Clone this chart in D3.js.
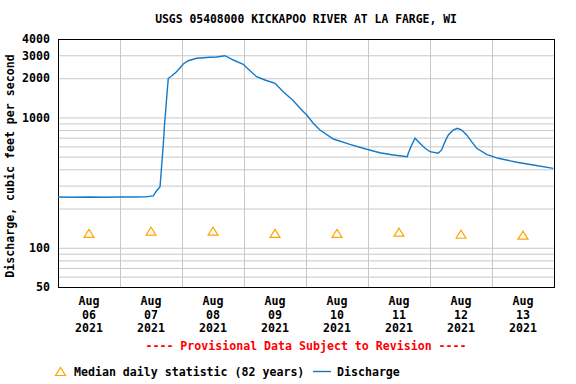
<!DOCTYPE html>
<html>
<head>
<meta charset="utf-8">
<script src="https://cdn.jsdelivr.net/npm/d3@7"></script>
<style>
  body { margin: 0; background: #fff; }
  text { font-family: "DejaVu Sans Mono", monospace; font-weight: bold; }
</style>
</head>
<body>
<script>
// chart size
var width = 576,
    height = 384;

// discharge, hours after Aug 06 2021 00:00 and cubic feet per second
var hours = [0, 6, 12, 18, 24, 30, 33.7, 36.9, 37.5, 38.2, 39.5, 39.9, 40.4, 40.8, 41.2, 41.5,
  42.1, 42.7, 44.0, 45.9, 48.5, 50.4, 53.7, 58.8, 61.4, 64.6, 67.9, 71.7, 73.7, 76.9, 80.1,
  84.0, 87.2, 91.1, 93.7, 95.0, 96.3, 98.8, 101.4, 106.6, 113.0, 119.5, 124.6, 129.8, 135.2,
  135.6, 136.9, 138.2, 140.1, 142.1, 144.0, 147.2, 148.5, 149.8, 151.1, 153.0, 154.6, 156.3,
  158.2, 160.1, 162.1, 165.9, 170.4, 177.6, 184.0, 191.7];
var discharge = [245, 244, 245, 244, 245, 245, 246, 250, 262, 274, 294, 373, 500, 640, 860, 1013,
  1443, 1998, 2080, 2245, 2571, 2726, 2844, 2895, 2910, 2978, 2760, 2558, 2342, 2054, 1938,
  1828, 1576, 1344, 1175, 1107, 1044, 902, 801, 683, 622, 570, 536, 515, 500,
  531, 615, 692, 633, 580, 546, 531, 563, 652, 734, 801, 826, 801,
  734, 652, 580, 521, 486, 453, 432, 407];

// median daily statistic (82 years)
var medianDays = [0, 1, 2, 3, 4, 5, 6, 7];
var medianValues = [129, 134, 134, 129, 129, 132, 127, 125];

// axis ticks
var yLabelTicks = [50, 100, 1000, 2000, 3000, 4000];
var yGridTicks = [60, 70, 80, 90, 100, 200, 300, 400, 500, 600, 700, 800, 900, 1000, 2000, 3000];

var startDate = new Date(2021, 7, 6);
var endDate = d3.timeDay.offset(startDate, 8);

var plot = {left: 58, right: 554, top: 39, bottom: 287};

var x = d3.scaleTime()
    .domain([startDate, endDate])
    .range([plot.left, plot.right]);

var y = d3.scaleLog()
    .domain([50, 4000])
    .range([plot.bottom, plot.top]);

var svg = d3.select("body")
    .append("svg")
    .attr("width", width)
    .attr("height", height);

// horizontal grid
svg.append("g")
    .attr("transform", "translate(" + plot.left + ",0)")
    .call(d3.axisLeft(y).tickValues(yGridTicks).tickSize(-(plot.right - plot.left)).tickFormat(""))
    .call(function(g){
        g.select(".domain").remove();
        g.selectAll(".tick line").attr("stroke", "#c8c8c8");
    });

// vertical grid at day boundaries
svg.append("g")
    .attr("transform", "translate(0," + plot.bottom + ")")
    .call(d3.axisBottom(x).ticks(d3.timeDay.every(1)).tickSize(-(plot.bottom - plot.top)).tickFormat(""))
    .call(function(g){
        g.select(".domain").remove();
        g.selectAll(".tick line").attr("stroke", "#c8c8c8");
    });

// frame
svg.append("rect")
    .attr("x", plot.left + 0.5)
    .attr("y", plot.top + 0.5)
    .attr("width", plot.right - plot.left)
    .attr("height", plot.bottom - plot.top)
    .attr("fill", "none")
    .attr("stroke", "black");

// y tick labels
svg.append("g")
    .attr("transform", "translate(" + plot.left + ",0)")
    .call(d3.axisLeft(y).tickValues(yLabelTicks).tickSize(0).tickPadding(8).tickFormat(d3.format("d")))
    .call(function(g){
        g.select(".domain").remove();
        g.selectAll("text")
            .attr("fill", "black")
            .style("font-size", "11.6px")
            .style("font-family", "DejaVu Sans Mono, monospace")
            .style("font-weight", "bold");
    });

// x labels, one per day at noon
var dayStarts = d3.timeDay.range(startDate, endDate);
var fmts = [d3.timeFormat("%b"), d3.timeFormat("%d"), d3.timeFormat("%Y")];
var xLabels = svg.append("g").selectAll("text")
    .data(dayStarts)
    .enter()
    .append("text")
    .attr("x", function(d){ return x(d3.timeHour.offset(d, 12)); })
    .attr("y", 305)
    .attr("text-anchor", "middle")
    .style("font-size", "11.6px");
xLabels.each(function(d){
    var t = d3.select(this);
    fmts.forEach(function(f, i){
        t.append("tspan")
            .attr("x", t.attr("x"))
            .attr("y", 305 + i * 13.5)
            .text(f(d));
    });
});

// discharge line
var line = d3.line()
    .x(function(d){ return x(d3.timeMinute.offset(startDate, Math.round(d[0] * 60))); })
    .y(function(d){ return y(d[1]); });

svg.append("path")
    .datum(hours.map(function(h, i){ return [h, discharge[i]]; }))
    .attr("d", line)
    .attr("fill", "none")
    .attr("stroke", "#1279c9")
    .attr("stroke-width", 1.4);

// median triangles
var tri = "M-5,4L0,-4L5,4Z";
svg.append("g").selectAll("path")
    .data(medianDays)
    .enter()
    .append("path")
    .attr("d", tri)
    .attr("transform", function(d, i){
        var t = d3.timeHour.offset(startDate, d * 24 + 12);
        return "translate(" + x(t) + "," + y(medianValues[i]) + ")";
    })
    .attr("fill", "white")
    .attr("stroke", "#ffa500")
    .attr("stroke-width", 1.2);

// title
svg.append("text")
    .attr("x", (plot.left + plot.right) / 2)
    .attr("y", 23)
    .attr("text-anchor", "middle")
    .style("font-size", "11.4px")
    .text("USGS 05408000 KICKAPOO RIVER AT LA FARGE, WI");

// y axis title
svg.append("text")
    .attr("transform", "translate(14,166) rotate(-90)")
    .attr("text-anchor", "middle")
    .style("font-size", "11.6px")
    .text("Discharge, cubic feet per second");

// provisional note
svg.append("text")
    .attr("x", (plot.left + plot.right) / 2)
    .attr("y", 350)
    .attr("text-anchor", "middle")
    .attr("fill", "red")
    .style("font-size", "11.6px")
    .text("---- Provisional Data Subject to Revision ----");

// legend
svg.append("path")
    .attr("d", tri)
    .attr("transform", "translate(60.5,371.5)")
    .attr("fill", "white")
    .attr("stroke", "#ffa500")
    .attr("stroke-width", 1.2);
svg.append("text")
    .attr("x", 74)
    .attr("y", 376)
    .style("font-size", "11.6px")
    .text("Median daily statistic (82 years)");
svg.append("line")
    .attr("x1", 313).attr("x2", 331)
    .attr("y1", 371.5).attr("y2", 371.5)
    .attr("stroke", "#1279c9")
    .attr("stroke-width", 1.4);
svg.append("text")
    .attr("x", 337)
    .attr("y", 376)
    .style("font-size", "11.6px")
    .text("Discharge");
</script>
</body>
</html>
